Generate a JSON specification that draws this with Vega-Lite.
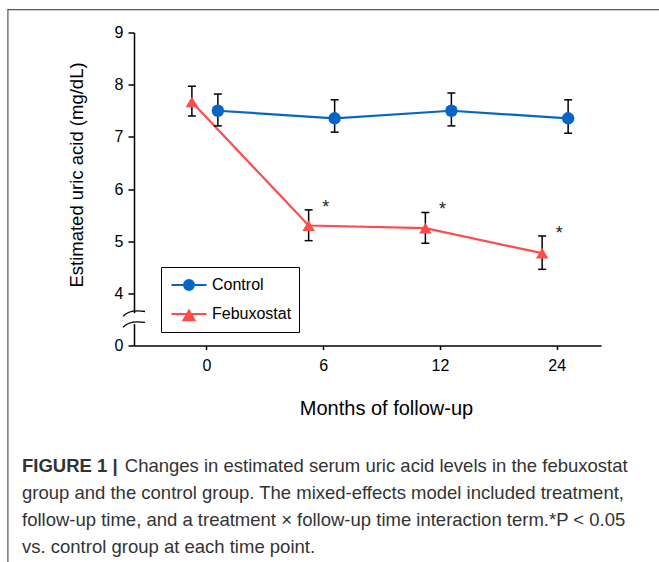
{
  "$schema": "https://vega.github.io/schema/vega-lite/v6.json",
  "width": 467,
  "height": 313,
  "autosize": {"type": "none"},
  "padding": {"left": 134, "top": 32.5, "right": 58, "bottom": 216.5},
  "background": "white",
  "config": {
    "view": {"stroke": null},
    "font": "Liberation Sans",
    "legend": {
      "orient": "none",
      "legendX": 27,
      "legendY": 234.5,
      "title": null,
      "strokeColor": "black",
      "padding": 7,
      "symbolSize": 400,
      "symbolStrokeWidth": 2,
      "symbolOpacity": 1,
      "symbolOffset": 10,
      "labelOffset": 12,
      "labelFontSize": 16,
      "labelColor": "black",
      "rowPadding": 9,
      "cornerRadius": 0
    }
  },
  "title": {
    "text": "FIGURE 1 |",
    "subtitle": [
      "\u200b\u00a0\u00a0\u00a0\u00a0\u00a0\u00a0\u00a0\u00a0\u00a0\u00a0\u00a0\u00a0\u00a0\u00a0\u00a0\u00a0\u00a0\u00a0\u00a0\u00a0Changes in estimated serum uric acid levels in the febuxostat",
      "group and the control group. The mixed-effects model included treatment,",
      "follow-up time, and a treatment \u00d7 follow-up time interaction term.*P < 0.05",
      "vs. control group at each time point."
    ],
    "orient": "bottom",
    "anchor": "start",
    "frame": "group",
    "dx": -112,
    "offset": -108,
    "font": "Liberation Sans",
    "fontSize": 18.5,
    "fontWeight": "bold",
    "color": "#333333",
    "subtitleFont": "Liberation Sans",
    "subtitleFontSize": 18.5,
    "subtitleFontWeight": "normal",
    "subtitleColor": "#333333",
    "subtitlePadding": -18.5,
    "subtitleLineHeight": 27
  },
  "data": {
    "values": [
      {"month": "0", "group": "Control", "mean": 7.50, "lower": 7.21, "upper": 7.82, "star": ""},
      {"month": "6", "group": "Control", "mean": 7.355, "lower": 7.09, "upper": 7.71, "star": ""},
      {"month": "12", "group": "Control", "mean": 7.50, "lower": 7.21, "upper": 7.84, "star": ""},
      {"month": "24", "group": "Control", "mean": 7.355, "lower": 7.07, "upper": 7.71, "star": ""},
      {"month": "0", "group": "Febuxostat", "mean": 7.67, "lower": 7.40, "upper": 7.97, "star": ""},
      {"month": "6", "group": "Febuxostat", "mean": 5.30, "lower": 5.01, "upper": 5.60, "star": "*"},
      {"month": "12", "group": "Febuxostat", "mean": 5.25, "lower": 4.96, "upper": 5.55, "star": "*"},
      {"month": "24", "group": "Febuxostat", "mean": 4.77, "lower": 4.46, "upper": 5.10, "star": "*"}
    ]
  },
  "resolve": {
    "scale": {"x": "independent", "shape": "independent", "color": "independent", "fill": "independent", "stroke": "independent"},
    "legend": {"shape": "independent", "color": "independent", "fill": "independent", "stroke": "independent"}
  },
  "layer": [
    {
      "encoding": {
        "x": {
          "field": "month",
          "type": "ordinal",
          "sort": ["0", "6", "12", "24"],
          "scale": {"type": "point", "domain": ["0", "6", "12", "24"], "paddingOuter": 0.5, "align": 0.62},
          "axis": {
            "title": "Months of follow-up",
            "labelAngle": 0,
            "labelFontSize": 16,
            "labelColor": "black",
            "labelPadding": 8,
            "tickSize": 4,
            "tickColor": "black",
            "tickWidth": 1.5,
            "domainColor": "black",
            "domainWidth": 1.5,
            "grid": false,
            "titleFontSize": 20,
            "titleFontWeight": "normal",
            "titleColor": "black",
            "titleX": 252,
            "titleY": 68.5,
            "titleAlign": "center",
            "titleBaseline": "alphabetic"
          }
        },
        "xOffset": {
          "field": "group",
          "type": "nominal",
          "scale": {"type": "point", "domain": ["Febuxostat", "Control"], "range": [-14.5, 11.5], "padding": 0}
        },
        "y": {
          "field": "mean",
          "type": "quantitative",
          "scale": {"domain": [3, 9], "zero": false, "nice": false},
          "axis": {
            "values": [3, 4, 5, 6, 7, 8, 9],
            "labelExpr": "datum.value == 3 ? '0' : datum.label",
            "labelFontSize": 16,
            "labelColor": "black",
            "labelPadding": 5,
            "tickSize": 6,
            "tickColor": "black",
            "tickWidth": 1.5,
            "domainColor": "black",
            "domainWidth": 1.5,
            "grid": false,
            "title": "Estimated uric acid (mg/dL)",
            "titleFontSize": 18.5,
            "titleFontWeight": "normal",
            "titleColor": "black",
            "titleAngle": -90,
            "titleX": -52,
            "titleY": 142,
            "titleAlign": "center",
            "titleBaseline": "alphabetic"
          }
        }
      },
      "layer": [
        {
          "mark": {"type": "line", "strokeWidth": 2.2},
          "encoding": {
            "color": {
              "field": "group",
              "type": "nominal",
              "scale": {"domain": ["Control", "Febuxostat"], "range": ["#0766c4", "#fe4b4b"]},
              "legend": null
            }
          }
        },
        {
          "mark": {"type": "rule", "color": "black", "strokeWidth": 1.5},
          "encoding": {
            "y": {"field": "lower", "type": "quantitative"},
            "y2": {"field": "upper"}
          }
        },
        {
          "mark": {"type": "tick", "orient": "horizontal", "color": "black", "size": 8, "thickness": 1.5, "opacity": 1},
          "encoding": {"y": {"field": "upper", "type": "quantitative"}}
        },
        {
          "mark": {"type": "tick", "orient": "horizontal", "color": "black", "size": 8, "thickness": 1.5, "opacity": 1},
          "encoding": {"y": {"field": "lower", "type": "quantitative"}}
        },
        {
          "mark": {"type": "point", "filled": true, "opacity": 1, "size": 155},
          "encoding": {
            "color": {
              "field": "group",
              "type": "nominal",
              "scale": {"domain": ["Control", "Febuxostat"], "range": ["#0766c4", "#fe4b4b"]},
              "legend": null
            },
            "shape": {
              "field": "group",
              "type": "nominal",
              "scale": {"domain": ["Control", "Febuxostat"], "range": ["circle", "triangle-up"]},
              "legend": null
            }
          }
        },
        {
          "transform": [{"filter": "datum.star != ''"}],
          "mark": {"type": "text", "fontSize": 18, "color": "#222222", "dx": 17, "dy": 3, "baseline": "alphabetic"},
          "encoding": {
            "y": {"field": "upper", "type": "quantitative"},
            "text": {"field": "star"}
          }
        }
      ]
    },
    {
      "transform": [{"filter": "false"}],
      "mark": {"type": "point", "filled": true, "opacity": 1},
      "encoding": {
        "fill": {
          "field": "group",
          "type": "nominal",
          "scale": {"domain": ["Control", "Febuxostat"], "range": ["#0766c4", "#fe4b4b"]}
        },
        "stroke": {
          "field": "group",
          "type": "nominal",
          "scale": {"domain": ["Control", "Febuxostat"], "range": ["#0766c4", "#fe4b4b"]}
        },
        "shape": {
          "field": "group",
          "type": "nominal",
          "scale": {
            "domain": ["Control", "Febuxostat"],
            "range": [
              "M-1.75,0H1.75M-0.5,0A0.5,0.5,0,1,0,0.5,0A0.5,0.5,0,1,0,-0.5,0Z",
              "M-1.75,0H1.75M0,-0.35L0.55,0.63L-0.55,0.63Z"
            ]
          }
        }
      }
    },
    {
      "data": {"values": [{}]},
      "mark": {"type": "rule", "color": "white", "strokeWidth": 5},
      "encoding": {
        "x": {"datum": 0, "type": "quantitative", "scale": {"domain": [0, 1]}, "axis": null},
        "y": {"datum": 3.41, "type": "quantitative"},
        "y2": {"datum": 3.62}
      }
    },
    {
      "data": {"values": [{}]},
      "mark": {"type": "point", "filled": false, "opacity": 1, "color": "black", "strokeWidth": 1.3, "size": 484, "shape": "M-1,0.3C-0.5,-0.3 0.3,-0.25 1,-0.15"},
      "encoding": {
        "x": {"datum": 0, "type": "quantitative", "scale": {"domain": [0, 1]}, "axis": null},
        "y": {"datum": 3.62, "type": "quantitative"}
      }
    },
    {
      "data": {"values": [{}]},
      "mark": {"type": "point", "filled": false, "opacity": 1, "color": "black", "strokeWidth": 1.3, "size": 484, "shape": "M-1,0.3C-0.5,-0.3 0.3,-0.25 1,-0.15"},
      "encoding": {
        "x": {"datum": 0, "type": "quantitative", "scale": {"domain": [0, 1]}, "axis": null},
        "y": {"datum": 3.41, "type": "quantitative"}
      }
    },
    {
      "data": {"values": [{}]},
      "mark": {"type": "rect", "fill": null, "fillOpacity": 0, "stroke": "#555555", "strokeWidth": 1.2, "clip": false},
      "encoding": {
        "x": {"datum": -0.27, "type": "quantitative", "scale": {"domain": [0, 1]}, "axis": null},
        "x2": {"datum": 1.3},
        "y": {"datum": 9.44, "type": "quantitative"},
        "y2": {"datum": -1.2}
      }
    }
  ]
}
